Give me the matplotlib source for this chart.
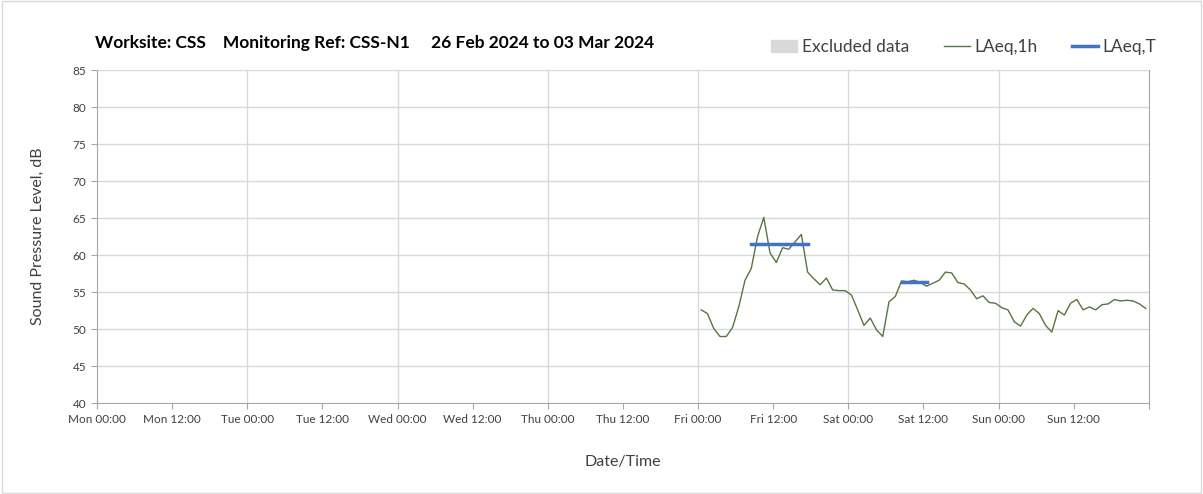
import matplotlib
matplotlib.use("Agg")
import matplotlib.pyplot as plt
import matplotlib.patches as mpatches
from matplotlib.lines import Line2D
import pandas as pd

plt.rcParams['font.family'] = ['Lato', 'DejaVu Sans']

# hourly LAeq,1h values, Fri 01 Mar 00:30 onwards
laeq_1h = [52.6, 52.1, 50.1, 49.0, 49.0, 50.2, 53.0, 56.6, 58.2, 62.5,
           65.1, 60.3, 59.0, 61.0, 60.8, 61.8, 62.8, 57.7, 56.8, 56.0,
           56.9, 55.3, 55.2, 55.2, 54.6, 52.6, 50.5, 51.5, 49.9, 49.0,
           53.7, 54.4, 56.5, 56.4, 56.6, 56.3, 55.8, 56.2, 56.6, 57.7,
           57.6, 56.3, 56.1, 55.3, 54.1, 54.5, 53.6, 53.5, 52.9, 52.6,
           51.0, 50.4, 51.9, 52.8, 52.1, 50.5, 49.6, 52.5, 51.9, 53.5,
           54.0, 52.6, 53.0, 52.6, 53.3, 53.4, 54.0, 53.8, 53.9, 53.8,
           53.4, 52.8]
times_1h = pd.date_range("2024-03-01 00:30", periods=len(laeq_1h), freq="h")

# LAeq,T periods (start, end, level)
laeq_t_start = ["2024-03-01 08:30", "2024-03-02 08:30"]
laeq_t_end = ["2024-03-01 17:30", "2024-03-02 12:30"]
laeq_t_val = [61.5, 56.3]

x_start = pd.Timestamp("2024-02-26 00:00")
x_end = pd.Timestamp("2024-03-04 00:00")

green = "#56763f"
blue = "#4472c4"
grid_c = "#d9d9d9"
axis_c = "#a6a6a6"
text_c = "#404040"

fig = plt.figure(figsize=(12.03, 4.94), dpi=100)
fig.patches.append(mpatches.Rectangle((0.002, 0.003), 0.996, 0.994, transform=fig.transFigure,
                                      fill=False, edgecolor=grid_c, linewidth=1))
ax = fig.add_axes([0.0806, 0.184, 0.8744, 0.674])

ax.plot(times_1h, laeq_1h, color=green, linewidth=1.0)
for s, e, v in zip(laeq_t_start, laeq_t_end, laeq_t_val):
    ax.plot([pd.Timestamp(s), pd.Timestamp(e)], [v, v], color=blue, linewidth=2.5)

ax.set_xlim(x_start, x_end)
ax.set_ylim(40, 85)
ax.set_yticks(range(40, 86, 5))
ticks = list(pd.date_range(x_start, x_end, freq="12h"))
ax.set_xticks(ticks)
ax.set_xticklabels([t.strftime('%a %H:%M') if t < x_end else '' for t in ticks])

for y in range(45, 86, 5):
    ax.axhline(y, color=grid_c, linewidth=1, zorder=0)
for d in pd.date_range(x_start, x_end, freq="24h")[1:-1]:
    ax.axvline(d, color=grid_c, linewidth=1, zorder=0)

ax.spines['top'].set_visible(False)
for sp in ['left', 'bottom', 'right']:
    ax.spines[sp].set_color(axis_c)
ax.tick_params(axis='both', colors=axis_c, labelcolor=text_c, labelsize=8.5, length=4)

ax.set_xlabel("Date/Time", fontsize=11.5, color=text_c, labelpad=22)
ax.set_ylabel("Sound Pressure Level, dB", fontsize=11.5, color=text_c, labelpad=20)

fig.text(0.079, 0.912, "Worksite: CSS    Monitoring Ref: CSS-N1     26 Feb 2024 to 03 Mar 2024",
         fontsize=12.5, fontweight='bold', color='black', va='center')

handles = [mpatches.Patch(color=grid_c, label='Excluded data'),
           Line2D([], [], color=green, linewidth=1.0, label='LAeq,1h'),
           Line2D([], [], color=blue, linewidth=2.5, label='LAeq,T')]
fig.legend(handles=handles, loc='center right', bbox_to_anchor=(0.974, 0.905), ncol=3,
           frameon=False, fontsize=12.5, handlelength=1.5, handletextpad=0.25, columnspacing=2.0,
           labelcolor=text_c)

fig.savefig("out.png", dpi=100)
